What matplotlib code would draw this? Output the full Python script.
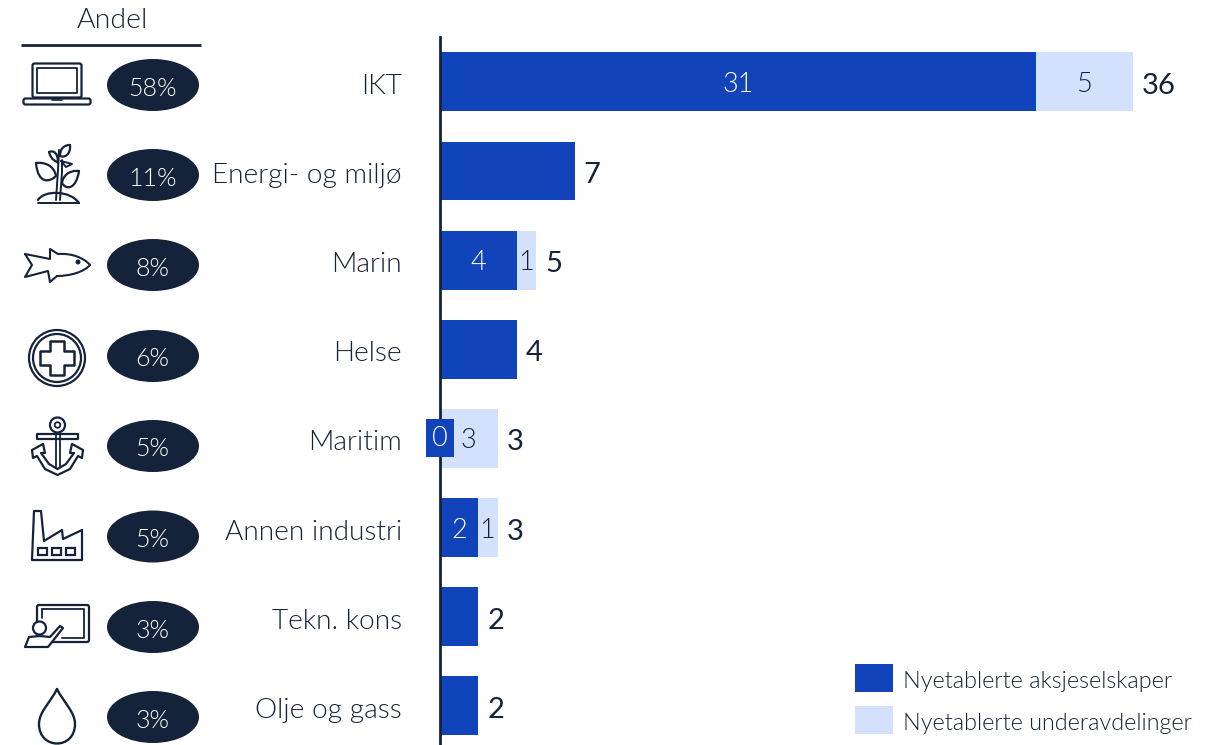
import matplotlib
matplotlib.use("Agg")
import matplotlib.pyplot as plt
from matplotlib.patches import Ellipse, Rectangle, Circle, FancyBboxPatch, PathPatch
from matplotlib.path import Path
from matplotlib.transforms import ScaledTranslation

plt.rcParams['font.family'] = ['Lato', 'DejaVu Sans']
plt.rcParams['font.weight'] = 300

categories = ["IKT", "Energi- og miljø", "Marin", "Helse", "Maritim", "Annen industri", "Tekn. kons", "Olje og gass"]
aksjeselskaper = [31, 7, 4, 4, 0, 2, 2, 2]
underavdelinger = [5, 0, 1, 0, 3, 1, 0, 0]
totals = [36, 7, 5, 4, 3, 3, 2, 2]
andel = ["58%", "11%", "8%", "6%", "5%", "5%", "3%", "3%"]
legend_labels = ["Nyetablerte aksjeselskaper", "Nyetablerte underavdelinger"]

DARK = "#14233a"
BLUE = "#1143bb"
LIGHT = "#d4e1fd"
W, H = 1214, 745

fig = plt.figure(figsize=(W / 100, H / 100), dpi=100)

# bars
ax = fig.add_axes([440 / W, 0, 1 - 440 / W, 1 - 37 / H])
ax.set_xlim(0, (W - 440) / 19.24)
ax.set_ylim(7.44, -0.503)
ax.barh(range(8), aksjeselskaper, height=0.66, color=BLUE)
ax.barh(range(8), underavdelinger, left=aksjeselskaper, height=0.66, color=LIGHT)
for s in ["top", "right", "bottom"]:
    ax.spines[s].set_visible(False)
ax.spines["left"].set_color(DARK)
ax.spines["left"].set_linewidth(2)
ax.spines["left"].set_zorder(1)
ax.set_xticks([])
ax.set_yticks(range(8), categories, fontsize=20.2, color=DARK)
ax.tick_params(axis="y", length=0, pad=27.5)

# text sits a little lower than matplotlib centres it
down = ax.transData + ScaledTranslation(0, -2.5 / 100, fig.dpi_scale_trans)
down_total = ax.transData + ScaledTranslation(0, -4 / 100, fig.dpi_scale_trans)
for lab in ax.get_yticklabels():
    lab.set_transform(lab.get_transform() + ScaledTranslation(0, -2 / 100, fig.dpi_scale_trans))

for i in range(8):
    a, u = aksjeselskaper[i], underavdelinger[i]
    if a > 0 and u > 0:
        ax.text(a / 2, i, str(a), color="white", ha="center", va="center", fontsize=19.5, transform=down)
    if u > 0:
        ax.text(a + u / 2 - 0.04, i, str(u), color=DARK, ha="center", va="center", fontsize=19.5, transform=down)
    ax.text(totals[i] + 0.47, i, str(totals[i]), color=DARK, ha="left", va="center", fontsize=21, fontweight="normal", transform=down_total)
ax.text(0, 4, "0", color="white", ha="center", va="center", fontsize=19.5, zorder=5,
        bbox=dict(fc=BLUE, ec="none", boxstyle="square,pad=0.24"))

# pixel layer for the left column, icons and legend
ov = fig.add_axes([0, 0, 1, 1])
ov.set_xlim(0, W)
ov.set_ylim(H, 0)
ov.axis("off")
ov.patch.set_alpha(0)

ov.text(112, 21, "Andel", ha="center", va="center", fontsize=20.5, color=DARK)
ov.plot([21, 201], [44.5, 44.5], color=DARK, lw=2, solid_capstyle="butt")

pill_y = [85, 175, 265, 356, 446, 536.5, 627, 717]
for y, t in zip(pill_y, andel):
    ov.add_patch(Ellipse((153, y), 92, 52, fc=DARK, ec="none"))
    ov.text(152.5, y + 3.5, t, ha="center", va="center", fontsize=18, color="white")


def line(pts, close=False, lw=1.6, fc="none"):
    codes = [Path.MOVETO] + [Path.LINETO] * (len(pts) - 1)
    if close:
        pts = list(pts) + [pts[0]]
        codes = codes + [Path.CLOSEPOLY]
    ov.add_patch(PathPatch(Path(pts, codes), fc=fc, ec=DARK, lw=lw, joinstyle="round", capstyle="round"))


def curve(verts, lw=1.6):
    codes = [Path.MOVETO] + [Path.CURVE4] * (len(verts) - 1)
    ov.add_patch(PathPatch(Path(verts, codes), fc="none", ec=DARK, lw=lw, capstyle="round"))


def rbox(x, y, w, h, r=2, lw=1.6):
    ov.add_patch(FancyBboxPatch((x, y), w, h, boxstyle="round,pad=0,rounding_size=%g" % r, fc="none", ec=DARK, lw=lw))


# laptop
rbox(32.5, 63.5, 49, 34, 2)
line([(37, 68), (77, 68), (77, 93), (37, 93)], True, 1.3)
rbox(23.5, 98.5, 67, 6, 2)
line([(52, 99.5), (62, 99.5)], lw=1.2)

# plant
line([(56, 200), (58, 170), (59, 150)], lw=1.4)
line([(60, 200), (62, 172), (62, 160)], lw=1.4)
curve([(38, 200), (44, 190), (70, 190), (79, 203)])
line([(38, 203), (79, 203)], lw=1.4)
curve([(36, 163), (38, 185), (50, 182), (56, 176)])
curve([(36, 163), (44, 162), (54, 165), (56, 176)])
curve([(79, 171), (76, 190), (66, 190), (62, 183)])
curve([(79, 171), (70, 170), (63, 175), (62, 183)])
curve([(49, 152), (52, 162), (56, 160), (58, 163)])
curve([(49, 152), (54, 150), (58, 153), (58, 163)])
curve([(70, 145), (71, 155), (64, 158), (60, 156)])
curve([(70, 145), (63, 145), (60, 150), (60, 156)])
line([(61, 161), (72, 164), (66, 167), (61, 161)], lw=1.4)

# fish
line([(25, 254), (32, 265), (25, 277), (48, 271), (50, 282), (57, 276)], lw=1.5)
curve([(57, 276), (70, 276), (84, 272), (90, 265)], 1.5)
curve([(90, 265), (84, 258), (72, 253), (58, 254)], 1.5)
line([(58, 254), (50, 249), (50, 259), (25, 254)], lw=1.5)
ov.add_patch(Circle((78, 262), 2.5, fc=DARK, ec="none"))

# cross in rings
for r, lw in [(28, 1.6), (24, 1.6)]:
    ov.add_patch(Circle((57, 358), r, fc="none", ec=DARK, lw=lw))
line([(50, 341), (64, 341), (64, 351), (74, 351), (74, 365), (64, 365), (64, 375), (50, 375),
      (50, 365), (40, 365), (40, 351), (50, 351)], True, 1.8)

# anchor
ov.add_patch(Circle((57.5, 425), 7.5, fc="none", ec=DARK, lw=1.6))
ov.add_patch(Circle((57.5, 425), 2.8, fc="none", ec=DARK, lw=1.3))
rbox(37, 434, 41, 5, 0.5)
line([(55.5, 433), (55.5, 467)], lw=1.3)
line([(59.5, 433), (59.5, 467)], lw=1.3)
line([(43, 444), (32, 450), (33, 458), (37, 456), (45, 469), (57.5, 475), (70, 469), (78, 456),
      (82, 458), (83, 450), (72, 444), (70, 453), (74, 453), (66, 464), (57.5, 469), (49, 464), (41, 453), (45, 453)], True, 1.6)

# factory
line([(32, 560), (34, 511), (41, 511), (44, 541), (62, 530), (63, 539), (82, 530), (82, 560)], True, 1.6)
for x in [38, 52, 66]:
    ov.add_patch(Rectangle((x, 548), 9, 7, fc="none", ec=DARK, lw=1.6))

# presenter at a screen
rbox(37, 605, 52, 37, 2)
line([(42, 609), (84, 609), (84, 638), (62, 638)], lw=1.3)
line([(42, 609), (42, 618)], lw=1.3)
ov.add_patch(Circle((39.5, 628), 6.5, fc="white", ec=DARK, lw=1.6))
line([(25, 647), (29, 637), (40, 636), (50, 637), (60, 626), (63, 628), (48, 647)], True, 1.6, fc="white")

# drop
curve([(57, 689), (50, 703), (39, 712), (39, 724), (39, 750), (75, 750), (75, 724), (75, 712), (64, 703), (57, 689)], 1.7)

# legend
for y0, col, lab in zip([664, 706], [BLUE, LIGHT], legend_labels):
    ov.add_patch(Rectangle((855, y0), 38, 28, fc=col, ec="none"))
    ov.text(903, y0 + 18, lab, ha="left", va="center", fontsize=16.8, color=DARK)

fig.savefig("out.png", dpi=100)
